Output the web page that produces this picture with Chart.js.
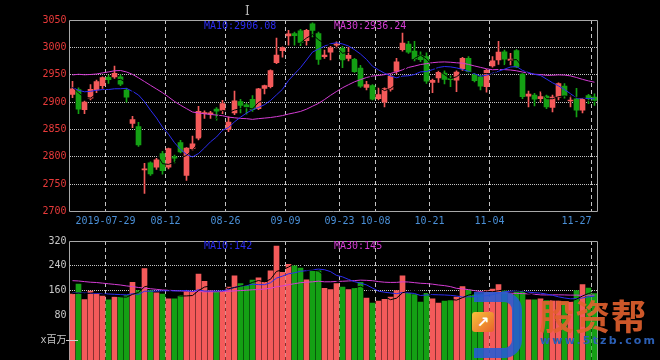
<!DOCTYPE html>
<html><head><meta charset="utf-8">
<script src="https://cdn.jsdelivr.net/npm/chart.js@4.4.1/dist/chart.umd.min.js"></script>
<style>
html,body{margin:0;padding:0;background:#000;width:660px;height:360px;overflow:hidden;position:relative;}
canvas{position:absolute;left:0;}
#main{top:0;}
#vol{top:232px;}
.wm{position:absolute;white-space:nowrap;pointer-events:none;}
#wm1{left:539px;top:289px;font:bold 35px "Noto Sans CJK SC";color:rgba(226,96,46,0.9);letter-spacing:1px;}
#wm2{left:540px;top:334px;font:bold 11px "DejaVu Sans";color:#2b5fb5;letter-spacing:2.2px;}
#cur{left:245px;top:4px;font:12px "DejaVu Serif";color:#bbb;}
#logo{left:474px;top:292px;width:38px;height:46px;border:10px solid rgba(38,92,212,0.88);border-left:none;border-radius:0 18px 18px 0;}
#logo2{left:472px;top:312px;width:22px;height:20px;background:linear-gradient(135deg,#f6c23a,#e8632a);border-radius:3px;color:#fff;font:bold 15px "DejaVu Sans";text-align:center;line-height:20px;}
</style></head><body>
<canvas id="main" width="660" height="232"></canvas>
<canvas id="vol" width="660" height="140"></canvas>
<div class="wm" id="cur">I</div>
<div class="wm" id="logo"></div>
<div class="wm" id="logo2">↗</div>
<div class="wm" id="wm1">股资帮</div>
<div class="wm" id="wm2">www.5tzb.com</div>
<script>
const dates = ['07-19','07-22','07-23','07-24','07-25','07-26','07-29','07-30','07-31',
 '08-01','08-02','08-05','08-06','08-07','08-08','08-09','08-12','08-13','08-14','08-15','08-16','08-19','08-20','08-21','08-22','08-23','08-26','08-27','08-28','08-29','08-30',
 '09-02','09-03','09-04','09-05','09-06','09-09','09-10','09-11','09-12','09-16','09-17','09-18','09-19','09-20','09-23','09-24','09-25','09-26','09-27','09-30',
 '10-08','10-09','10-10','10-11','10-14','10-15','10-16','10-17','10-18','10-21','10-22','10-23','10-24','10-25','10-28','10-29','10-30','10-31',
 '11-01','11-04','11-05','11-06','11-07','11-08','11-11','11-12','11-13','11-14','11-15','11-18','11-19','11-20','11-21','11-22','11-25','11-26','11-27'];
const tickDates = ['07-29','08-12','08-26','09-09','09-23','10-08','10-21','11-04','11-27'];
const tickLabels = ['2019-07-29','08-12','08-26','09-09','09-23','10-08','10-21','11-04','11-27'];

const open = [2914,2923,2886,2907,2922,2930,2945,2946,2946,2922,2861,2855,2776,2789,2781,2806,2781,2800,2826,2766,2815,2834,2879,2878,2887,2885,2850,2880,2901,2895,2905,
 2888,2925,2928,2972,2994,3021,3025,3030,3012,3043,3025,2983,2991,3004,2998,2980,2978,2962,2927,2930,
 2906,2900,2923,2956,2996,3006,2993,2985,2983,2936,2944,2953,2943,2940,2961,2980,2950,2946,
 2928,2966,2977,2992,2976,2994,2951,2911,2913,2906,2911,2890,2909,2929,2902,2906,2885,2912,2909];
const high = [2938,2926,2902,2932,2940,2946,2949,2966,2950,2925,2874,2863,2788,2791,2797,2810,2816,2803,2830,2817,2838,2892,2884,2883,2890,2903,2873,2920,2905,2898,2912,
 2925,2931,2959,3017,3001,3031,3028,3033,3033,3045,3028,2995,3002,3010,3002,3000,2980,2967,2938,2932,
 2926,2926,2950,2980,3026,3011,3011,2992,2990,2942,2957,2957,2948,2957,2982,2983,2953,2949,
 2960,2983,3011,2995,2989,2996,2952,2920,2916,2919,2913,2913,2935,2934,2911,2925,2907,2914,2915];
const low = [2908,2879,2879,2904,2917,2925,2934,2943,2930,2900,2853,2819,2733,2766,2777,2768,2778,2789,2807,2757,2812,2831,2870,2870,2867,2879,2846,2877,2880,2878,2883,
 2886,2915,2926,2970,2982,3004,3004,3003,3004,3019,2969,2980,2977,2999,2963,2975,2954,2927,2922,2904,
 2904,2891,2920,2952,2993,2989,2975,2974,2934,2917,2936,2933,2928,2919,2958,2953,2937,2922,
 2918,2964,2969,2968,2968,2963,2906,2891,2893,2900,2888,2882,2904,2907,2891,2873,2880,2897,2894];
const close = [2924.20,2886.97,2899.94,2923.28,2937.36,2944.54,2941.01,2952.34,2932.51,2908.77,2867.84,2821.50,2777.56,2768.68,2794.55,2774.75,2814.99,2797.26,2808.91,2815.80,2823.82,2883.10,2880.00,2880.33,2883.44,2897.43,2863.57,2902.19,2893.76,2890.92,2886.24,
 2924.11,2930.15,2957.41,2985.86,2999.60,3024.74,3021.20,3008.81,3031.24,3030.75,2978.12,2985.66,2999.28,3006.45,2977.08,2985.34,2955.43,2929.09,2932.17,2905.19,
 2913.57,2924.86,2947.71,2973.66,3007.88,2991.05,2978.71,2977.33,2938.14,2939.62,2954.38,2941.62,2940.92,2954.93,2980.05,2954.18,2939.32,2929.06,
 2958.20,2975.49,2991.56,2978.60,2978.71,2964.18,2909.97,2914.82,2905.24,2909.87,2891.34,2909.20,2933.99,2911.05,2903.64,2885.29,2906.17,2906.85,2903.19];
const ma5 = [2927.5,2916.5,2909.0,2907.3,2914.4,2918.4,2929.2,2939.7,2941.6,2935.8,2920.5,2896.6,2861.6,2828.9,2806.0,2787.4,2786.1,2790.0,2798.1,2802.3,2812.2,2825.8,2842.3,2856.6,2870.1,2884.9,2881.0,2885.4,2888.1,2889.6,2887.3,
 2899.4,2905.0,2917.8,2936.8,2959.4,2979.6,2997.8,3008.0,3017.1,3023.3,3014.0,3006.9,3005.0,3000.1,2989.3,2990.8,2984.7,2970.7,2955.8,2941.4,
 2927.1,2921.0,2924.7,2933.0,2953.5,2969.0,2979.8,2985.7,2978.6,2965.0,2957.6,2950.2,2942.9,2946.3,2954.4,2954.3,2953.9,2951.5,
 2952.2,2951.3,2958.7,2966.6,2976.5,2977.7,2964.6,2949.3,2934.6,2920.8,2906.2,2906.1,2909.9,2911.1,2909.8,2908.6,2908.0,2902.6,2901.0];
const ma10 = [2926.3,2921.6,2918.8,2919.6,2921.6,2923.0,2922.9,2924.3,2924.4,2925.1,2919.5,2912.9,2900.7,2885.2,2870.9,2854.0,2841.3,2825.8,2813.5,2804.2,2799.8,2805.9,2816.2,2827.4,2836.2,2848.5,2853.4,2863.9,2872.3,2879.9,2886.1,
 2890.2,2895.2,2902.9,2913.2,2923.4,2939.5,2951.4,2962.9,2976.9,2991.4,2996.8,3002.3,3006.5,3008.6,3006.3,3002.4,2995.8,2987.8,2977.9,2965.4,
 2958.9,2952.8,2947.7,2944.4,2947.5,2948.1,2950.4,2955.2,2955.8,2959.3,2963.3,2965.0,2964.3,2962.5,2959.7,2956.0,2952.0,2947.2,
 2949.2,2952.8,2956.5,2960.2,2964.0,2964.9,2957.9,2954.0,2950.6,2948.7,2942.0,2935.3,2929.6,2922.8,2915.3,2907.4,2907.1,2906.3,2906.08];
const ma30 = [2949.6,2950.8,2949.9,2950.4,2951.3,2953.3,2955.1,2957.2,2957.7,2955.0,2950.6,2944.3,2937.5,2930.6,2923.9,2917.1,2909.4,2901.2,2894.3,2888.0,2881.8,2880.1,2878.5,2877.4,2876.2,2875.1,2872.5,2871.3,2870.1,2869.7,2868.4,
 2869.7,2870.7,2871.8,2873.4,2875.3,2878.1,2880.4,2882.9,2887.0,2892.4,2897.6,2904.6,2912.3,2919.3,2926.1,2931.7,2937.0,2941.0,2944.9,2947.6,
 2948.6,2950.1,2952.3,2955.3,2959.0,2963.3,2965.8,2968.6,2970.2,2972.0,2973.0,2973.4,2972.8,2971.8,2971.1,2968.8,2966.0,2963.4,
 2960.9,2959.1,2959.5,2959.3,2958.6,2957.2,2954.9,2952.6,2950.9,2950.3,2948.9,2949.0,2949.7,2949.3,2947.8,2944.9,2941.5,2938.7,2936.24];
const volume = [149,181,131,158,149,142,130,139,139,144,187,160,231,160,153,149,133,133,144,155,155,213,190,160,155,155,171,208,183,176,194,
 201,187,224,304,219,245,240,233,195,222,224,167,163,183,171,163,167,187,136,120,
 126,132,139,160,208,151,147,123,151,133,120,126,128,139,173,162,147,147,
 160,165,179,160,149,155,157,130,130,133,128,128,128,123,123,160,179,168,150];
const volMa5 = [150,152,150,152,153.6,152.2,142,143.6,139.8,138.8,147.8,153.8,172.2,176.4,178.2,170.6,165.2,145.6,142.4,142.8,144,160,171.4,174.6,174.6,174.6,166.2,169.8,174.4,178.6,186.4,
 192.4,188.2,196.4,222,227,235.8,246.4,248.2,226.4,227,222.8,208.2,194.2,191.8,181.6,169.4,169.4,174.2,164.8,154.6,
 147.2,140.2,130.6,135.4,153,158,161,157.8,156,141,134.8,130.6,131.6,129.2,137.2,145.6,149.8,153.6,
 157.8,156.2,159.6,162.2,162.6,161.6,160,150.2,144.2,141,135.6,129.8,129.4,128,126,132.4,142.6,150.6,156];
const volMa10 = [152,152,152,151,151,150,149,148,147,146.2,150.0,147.9,157.9,158.1,158.5,159.2,159.5,158.9,159.4,160.5,157.3,162.6,158.5,158.5,158.7,159.3,163.1,170.6,174.5,176.6,180.5,
 179.3,179.0,185.4,200.3,206.7,214.1,217.3,222.3,224.2,227.0,229.3,227.3,221.2,209.1,204.3,196.1,188.8,184.2,178.3,168.1,
 158.3,154.8,152.4,150.1,153.8,152.6,150.6,144.2,145.7,147.0,146.4,145.8,144.7,142.6,139.1,140.2,140.2,142.6,
 143.5,146.7,152.6,156.0,158.1,159.7,158.1,154.9,153.2,151.8,148.6,144.9,139.8,136.1,133.5,134.0,136.2,140.0,142.0];
const volMa30 = [192,191,189,187,186,184,182,180,178,175,173,170,168,166,164,162,161,160,159,158,157,157,156,156,156,157,158,159,160,161.1,162.6,
 163.3,165.1,167.3,172.5,175.1,178.9,182.3,185.4,187.1,188.3,190.4,188.3,188.4,189.4,190.1,191.1,192.2,193.7,193.0,191.9,
 189.0,187.0,186.3,186.5,188.3,187.6,185.6,183.6,182.7,180.7,178.0,176.0,172.8,167.3,165.7,163.0,159.9,157.0,
 155.8,153.9,152.4,152.2,151.7,150.8,150.3,149.2,148.0,146.2,145.9,146.2,146.3,146.0,145.4,145.4,144.5,145.0,145.1];
const volTicks = [0,80,160,240,320];

const RED = '#f45a5a', GREEN = '#14a014', BLUE = '#2c2cf0', MAG = '#d43cd4';
const GRID = '#c4c4c4', FRAME = '#a8a8a8';
const FONT = '"DejaVu Sans Mono", "Noto Sans CJK SC", monospace';
Chart.defaults.font.family = FONT;
Chart.defaults.font.size = 10;
const N = dates.length, last = N - 1;
const up = i => close[i] >= open[i];
const colorFn = c => up(c.dataIndex) ? RED : GREEN;
const pts = arr => arr.map((v, i) => ({x: i + 0.5, y: v}));
const line = (arr, col) => ({type: 'line', data: pts(arr), borderColor: col, borderWidth: 1, pointRadius: 0, tension: 0, order: 0});

function xAxis(show) {
  return {
    type: 'linear', min: 0, max: N, offset: false,
    afterBuildTicks: ax => { ax.ticks = tickDates.map(d => ({value: dates.indexOf(d)})); },
    ticks: {display: show, color: '#4a8fd6', padding: 4, autoSkip: false, maxRotation: 0,
      callback: v => { const k = tickDates.findIndex(d => dates.indexOf(d) === v); return k === tickDates.length - 1 ? tickLabels[k] + '     ' : tickLabels[k]; }},
    grid: {color: GRID, lineWidth: 1, drawTicks: false, offset: false},
    border: {display: false, dash: [4, 3]},
    afterFit: ax => { ax.height = show ? 20.5 : 0; }
  };
}

function framePlugin(texts) {
  return {
    id: 'frame',
    beforeDatasetsDraw(chart) {
      const {ctx, chartArea: a} = chart;
      ctx.save();
      ctx.strokeStyle = FRAME; ctx.lineWidth = 1;
      const l = Math.floor(a.left) + 0.5, t = Math.floor(a.top) + 0.5, r = Math.floor(a.right) + 0.5, b = Math.floor(a.bottom) + 0.5;
      ctx.beginPath(); ctx.moveTo(l, b); ctx.lineTo(l, t); ctx.lineTo(r, t); ctx.lineTo(r, b); ctx.lineTo(l, b); ctx.stroke();
      ctx.restore();
    },
    afterDraw(chart) {
      const {ctx} = chart;
      ctx.save();
      ctx.font = '10px ' + FONT; ctx.textBaseline = 'middle'; ctx.textAlign = 'left';
      texts.forEach(tx => { ctx.fillStyle = tx.color; ctx.fillText(tx.text, tx.x, tx.y); });
      if (chart.canvas.id === 'vol') {
        const y0 = Math.round(chart.scales.y.getPixelForValue(0)) + 0.5;
        ctx.strokeStyle = '#d0d0d0'; ctx.beginPath(); ctx.moveTo(66, y0); ctx.lineTo(78, y0); ctx.stroke();
      }
      ctx.restore();
    }
  };
}

new Chart(document.getElementById('main'), {
  type: 'bar',
  data: {datasets: [
    line(ma5, '#000000'), line(ma10, BLUE), line(ma30, MAG),
    {type: 'bar', data: low.map((v, i) => ({x: i + 0.5, y: [low[i], high[i]]})), backgroundColor: colorFn, barThickness: 1, grouped: false, order: 2},
    {type: 'bar', data: open.map((v, i) => ({x: i + 0.5, y: [open[i], close[i]]})), backgroundColor: colorFn, barThickness: 5, minBarLength: 1, grouped: false, order: 1}
  ]},
  options: {
    responsive: false, animation: false, devicePixelRatio: 1,
    layout: {padding: {left: 0, right: 62.5, top: 20, bottom: 0}},
    plugins: {legend: {display: false}, tooltip: {enabled: false}},
    scales: {
      x: xAxis(true),
      y: {min: 2700, max: 3050,
        ticks: {stepSize: 50, color: '#e83a3a', padding: 3, callback: v => String(v)},
        grid: {color: c => (c.tick && (c.tick.value === 2700 || c.tick.value === 3050)) ? 'rgba(0,0,0,0)' : GRID, drawTicks: false},
        border: {display: false, dash: [1, 1]},
        afterFit: ax => { ax.width = 69.5; }}
    }
  },
  plugins: [framePlugin([
    {text: 'MA10:' + ma10[last].toFixed(2), color: BLUE, x: 204, y: 26},
    {text: 'MA30:' + ma30[last].toFixed(2), color: MAG, x: 334, y: 26}
  ])]
});

new Chart(document.getElementById('vol'), {
  type: 'bar',
  data: {datasets: [
    line(volMa5, '#000000'), line(volMa10, BLUE), line(volMa30, MAG),
    {type: 'bar', data: pts(volume), base: -64, backgroundColor: colorFn, barThickness: 5, grouped: false, order: 1}
  ]},
  options: {
    responsive: false, animation: false, devicePixelRatio: 1,
    layout: {padding: {left: 0, right: 62.5, top: 8, bottom: 12}},
    plugins: {legend: {display: false}, tooltip: {enabled: false}},
    scales: {
      x: xAxis(false),
      y: {min: -64, max: 320,
        afterBuildTicks: ax => { ax.ticks = volTicks.map(v => ({value: v})); },
        ticks: {color: '#c8c8c8', padding: 3, callback: v => v === 0 ? 'x百万' : String(v)},
        grid: {color: c => (c.tick && (c.tick.value === 0 || c.tick.value === 320)) ? 'rgba(0,0,0,0)' : GRID, drawTicks: false},
        border: {display: false, dash: [1, 1]},
        afterFit: ax => { ax.width = 69.5; }}
    }
  },
  plugins: [framePlugin([
    {text: 'MA10:' + Math.round(volMa10[last]), color: BLUE, x: 204, y: 14},
    {text: 'MA30:' + Math.round(volMa30[last]), color: MAG, x: 334, y: 14}
  ])]
});
</script>
</body></html>
